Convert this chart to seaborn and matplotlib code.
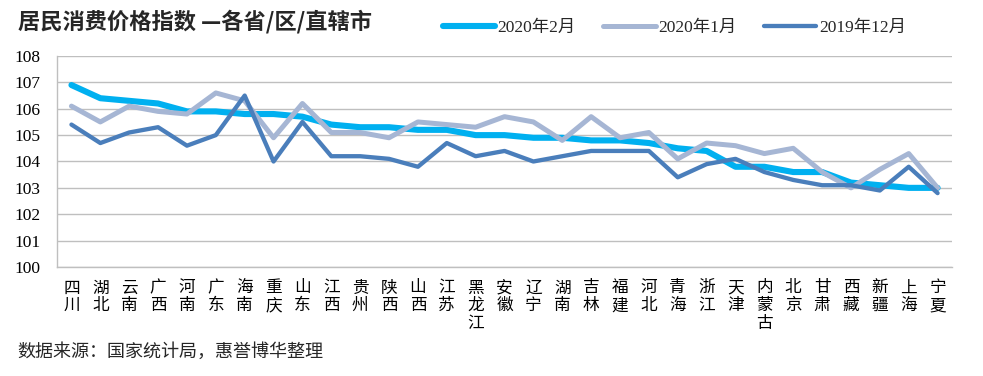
import numpy as np
import pandas as pd
import matplotlib
matplotlib.use("Agg")
import matplotlib.pyplot as plt
import seaborn as sns

# Plot settings
sns.set_theme(style="white")
plt.rcParams['font.family'] = ['Liberation Serif', 'Noto Sans CJK SC']
serif_cjk = ['Liberation Serif', 'Noto Sans CJK SC']
cjk = ['Noto Sans CJK SC', 'DejaVu Sans']

# Data
provinces = ['四川', '湖北', '云南', '广西', '河南', '广东', '海南', '重庆', '山东', '江西',
             '贵州', '陕西', '山西', '江苏', '黑龙江', '安徽', '辽宁', '湖南', '吉林', '福建',
             '河北', '青海', '浙江', '天津', '内蒙古', '北京', '甘肃', '西藏', '新疆', '上海', '宁夏']
feb_2020 = [106.9, 106.4, 106.3, 106.2, 105.9, 105.9, 105.8, 105.8, 105.7, 105.4,
            105.3, 105.3, 105.2, 105.2, 105.0, 105.0, 104.9, 104.9, 104.8, 104.8,
            104.7, 104.5, 104.4, 103.8, 103.8, 103.6, 103.6, 103.2, 103.1, 103.0, 103.0]
jan_2020 = [106.1, 105.5, 106.1, 105.9, 105.8, 106.6, 106.3, 104.9, 106.2, 105.1,
            105.1, 104.9, 105.5, 105.4, 105.3, 105.7, 105.5, 104.8, 105.7, 104.9,
            105.1, 104.1, 104.7, 104.6, 104.3, 104.5, 103.6, 103.0, 103.7, 104.3, 103.0]
dec_2019 = [105.4, 104.7, 105.1, 105.3, 104.6, 105.0, 106.5, 104.0, 105.5, 104.2,
            104.2, 104.1, 103.8, 104.7, 104.2, 104.4, 104.0, 104.2, 104.4, 104.4,
            104.4, 103.4, 103.9, 104.1, 103.6, 103.3, 103.1, 103.1, 102.9, 103.8, 102.8]
series_names = ['2020年2月', '2020年1月', '2019年12月']
y_ticks = [100, 101, 102, 103, 104, 105, 106, 107, 108]

colors = ['#00B0F0', '#A6B6D4', '#4A7EBB']
widths = [4.4, 3.6, 3.1]

df = pd.DataFrame({'省份': provinces,
                   series_names[0]: feb_2020,
                   series_names[1]: jan_2020,
                   series_names[2]: dec_2019})
df = df.melt(id_vars='省份', var_name='月份', value_name='CPI')

# Figure and axis
fig = plt.figure(figsize=(9.83, 3.76), dpi=100)
ax = fig.add_axes([0.058, 0.29, 0.9105, 0.561])

sns.lineplot(data=df, x='省份', y='CPI', hue='月份', size='月份',
             palette=dict(zip(series_names, colors)),
             sizes=dict(zip(series_names, widths)),
             sort=False, errorbar=None, ax=ax)

# Axes
ax.set_xlim(-0.5, len(provinces) - 0.5)
ax.set_ylim(100, 108)
ax.set_yticks(y_ticks)
ax.set_yticklabels([str(v) for v in y_ticks])
ax.set_xticks(range(len(provinces)))
ax.set_xticklabels(['\n'.join(p) for p in provinces], linespacing=1.05)
ax.set_xlabel('')
ax.set_ylabel('')

for t in ax.get_yticklabels():
    t.set_fontname('Liberation Serif')
    t.set_fontsize(12.5)
for t in ax.get_xticklabels():
    t.set_family(cjk)
    t.set_fontsize(12)

ax.yaxis.grid(True, color='#BFBFBF', linewidth=1)
ax.xaxis.grid(False)
for name, spine in ax.spines.items():
    if name in ['left', 'bottom']:
        spine.set_visible(True)
        spine.set_color('#BFBFBF')
        spine.set_linewidth(1)
    else:
        spine.set_visible(False)

ax.tick_params(axis='both', length=0, colors='black')
ax.tick_params(axis='y', pad=12)
ax.tick_params(axis='x', pad=9)

# Legend
handles, labels = ax.get_legend_handles_labels()
ax.get_legend().remove()
fig.legend(handles, labels, loc='center', bbox_to_anchor=(0.686, 0.9255),
           ncol=3, frameon=False, handlelength=3.0, handletextpad=0.15,
           columnspacing=1.6, prop={'family': serif_cjk, 'size': 12.5})

# Title and source note
fig.text(0.018, 1 - 22 / 376, '居民消费价格指数 —各省/区/直辖市', fontsize=16,
         fontweight='bold', family=cjk, ha='left', va='center')
fig.text(0.018, 1 - 352 / 376, '数据来源：国家统计局，惠誉博华整理', fontsize=13,
         family=cjk, ha='left', va='center')

fig.savefig('out.png', dpi=100)
